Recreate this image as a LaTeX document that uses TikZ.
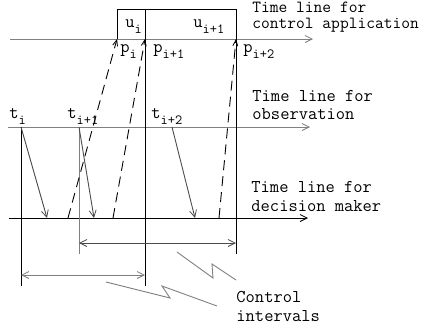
\documentclass[tikz,border=0pt]{standalone}
\usepackage{fontspec}
\usepackage{tikz}
\usetikzlibrary{arrows, arrows.meta, positioning, calc}

\newcommand{\lowidx}[2]{#1\raisebox{-6pt}{\fontsize{14}{14}\selectfont #2}}

\begin{document}
\begin{tikzpicture}[x=1pt, y=-1pt, line width=0.9pt,
    every node/.style={font=\ttfamily\fontsize{18}{20}\selectfont, inner sep=0pt, anchor=base west},
    note/.style={align=left, anchor=north west},
    barb/.style={-{Straight Barb[length=7pt, width=7pt, line width=0.8pt]}},
    twobarb/.style={{Straight Barb[length=7pt, width=7pt, line width=0.8pt]}-{Straight Barb[length=7pt, width=7pt, line width=0.8pt]}},
    signal/.style={dash pattern=on 10pt off 6pt, -{Straight Barb[length=6pt, width=5pt, line width=0.8pt]}},
    zig/.style={gray}]
  \useasboundingbox (0,0) rectangle (433,330);

  % time lines
  \coordinate (c0) at (10,39);  \coordinate (c1) at (313,39);
  \coordinate (o0) at (8,127);  \coordinate (o1) at (310,127);
  \coordinate (d0) at (9,218);  \coordinate (d1) at (308,218);
  \draw[gray, barb] (c0) -- (c1);
  \draw[gray, barb] (o0) -- (o1);
  \draw[barb] (d0) -- (d1);

  % observation instants and control instants
  \coordinate (ti) at (21,127);   \coordinate (tib) at (21,286);
  \coordinate (tj) at (79,127);   \coordinate (tjb) at (79,254);
  \coordinate (tk) at (172,127);
  \coordinate (pi) at (117,39);   \coordinate (pit) at (117,9);
  \coordinate (pj) at (145,39);   \coordinate (pjt) at (145,9);  \coordinate (pjb) at (145,286);
  \coordinate (pk) at (236,39);   \coordinate (pkt) at (236,9);  \coordinate (pkb) at (236,254);

  \draw (ti) -- (tib);
  \draw[gray] (tj) -- (tjb);
  \draw (pi) -- (pit) -- (pkt) -- (pkb);
  \draw (pjt) -- (pjb);

  % observation -> decision maker
  \coordinate (ri) at (47,218);
  \coordinate (rj) at (94,218);
  \coordinate (rk) at (195,218);
  \draw[black!70, barb] (ti) -- (ri);
  \draw[black!70, barb] (tj) -- (rj);
  \draw[black!70, barb] (tk) -- (rk);

  % decision maker -> control application
  \coordinate (si) at (68,218);
  \coordinate (sj) at (113,218);
  \coordinate (sk) at (219,218);
  \draw[signal] (si) -- (pi);
  \draw[signal] (sj) -- (pj);
  \draw[signal] (sk) -- (pk);

  % control intervals
  \coordinate (ai) at (79,243);  \coordinate (aj) at (236,243);
  \coordinate (bi) at (21,275);  \coordinate (bj) at (145,275);
  \draw[black!70, twobarb] (ai) -- (aj);
  \draw[gray, twobarb] (bi) -- (bj);
  \draw[zig] (106,282) -- (170,298) -- (162,286) -- (217,306);
  \draw[zig] (177,252) -- (213,278) -- (212,264) -- (236,280);

  % labels
  \node (lti) at (9,118) {\lowidx{t}{i}};
  \node (ltj) at (67,118) {\lowidx{t}{i+1}};
  \node (ltk) at (151,118) {\lowidx{t}{i+2}};
  \node (lpi) at (120,52) {\lowidx{p}{i}};
  \node (lpj) at (153,52) {\lowidx{p}{i+1}};
  \node (lpk) at (243,52) {\lowidx{p}{i+2}};
  \node (lui) at (125,27) {\lowidx{u}{i}};
  \node (luj) at (193,27) {\lowidx{u}{i+1}};

  \node[note, font=\ttfamily\fontsize{17}{16}\selectfont] (ca) at (252,1.8) {Time line for\\control application};
  \node[note, font=\ttfamily\fontsize{18}{18}\selectfont] (ob) at (252,90) {Time line for\\observation};
  \node[note, font=\ttfamily\fontsize{18}{19}\selectfont] (dm) at (251,181) {Time line for\\decision maker};
  \node[note, font=\ttfamily\fontsize{18}{19}\selectfont] (ci) at (236,291) {Control\\intervals};
\end{tikzpicture}
\end{document}
